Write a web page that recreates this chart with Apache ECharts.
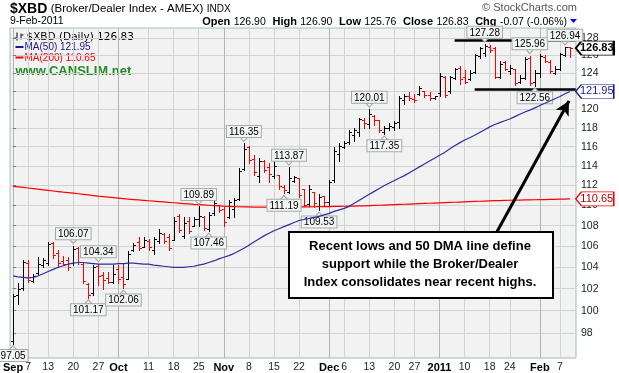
<!DOCTYPE html>
<html><head><meta charset="utf-8">
<script src="https://cdn.jsdelivr.net/npm/echarts@6/dist/echarts.min.js"></script>
<style>html,body{margin:0;padding:0;background:#fff}#c{width:619px;height:373px}</style>
</head><body><div id="c"></div>
<script>
const dates = [
'2010-09-01','2010-09-02','2010-09-03','2010-09-07','2010-09-08','2010-09-09','2010-09-10','2010-09-13','2010-09-14','2010-09-15','2010-09-16','2010-09-17','2010-09-20','2010-09-21','2010-09-22','2010-09-23','2010-09-24','2010-09-27','2010-09-28','2010-09-29','2010-09-30',
'2010-10-01','2010-10-04','2010-10-05','2010-10-06','2010-10-07','2010-10-08','2010-10-11','2010-10-12','2010-10-13','2010-10-14','2010-10-15','2010-10-18','2010-10-19','2010-10-20','2010-10-21','2010-10-22','2010-10-25','2010-10-26','2010-10-27','2010-10-28','2010-10-29',
'2010-11-01','2010-11-02','2010-11-03','2010-11-04','2010-11-05','2010-11-08','2010-11-09','2010-11-10','2010-11-11','2010-11-12','2010-11-15','2010-11-16','2010-11-17','2010-11-18','2010-11-19','2010-11-22','2010-11-23','2010-11-24','2010-11-26','2010-11-29','2010-11-30',
'2010-12-01','2010-12-02','2010-12-03','2010-12-06','2010-12-07','2010-12-08','2010-12-09','2010-12-10','2010-12-13','2010-12-14','2010-12-15','2010-12-16','2010-12-17','2010-12-20','2010-12-21','2010-12-22','2010-12-23','2010-12-27','2010-12-28','2010-12-29','2010-12-30','2010-12-31',
'2011-01-03','2011-01-04','2011-01-05','2011-01-06','2011-01-07','2011-01-10','2011-01-11','2011-01-12','2011-01-13','2011-01-14','2011-01-18','2011-01-19','2011-01-20','2011-01-21','2011-01-24','2011-01-25','2011-01-26','2011-01-27','2011-01-28','2011-01-31',
'2011-02-01','2011-02-02','2011-02-03','2011-02-04','2011-02-07','2011-02-08','2011-02-09'];

const opens = [97.3,101.4,102.1,104.4,102.7,103.5,104.2,104.4,106.3,105.4,104.6,104.7,104.4,105.8,104.3,102.4,101.6,104.1,103.3,103.0,102.6,
103.8,103.1,102.9,105.6,106.4,105.9,106.5,105.6,106.5,107.2,106.9,106.6,108.9,107.0,108.5,108.0,108.6,108.8,107.7,109.2,110.0,
109.6,108.8,109.6,110.6,113.7,116.0,114.7,113.0,114.5,113.9,113.0,113.1,111.8,111.3,112.5,112.8,111.6,110.1,111.3,109.9,110.9,
110.3,112.6,115.2,116.0,116.5,117.2,117.6,118.8,118.4,119.3,118.8,117.6,118.0,118.1,118.6,121.0,121.5,121.1,121.7,122.0,121.6,121.2,
121.8,123.6,122.0,123.4,124.6,123.6,123.3,124.1,125.9,126.3,127.0,126.8,123.6,125.3,124.2,124.4,123.0,123.4,125.7,123.0,
124.0,125.8,125.3,124.0,124.4,126.0,126.90];
const highs = [101.5,102.5,104.7,104.7,103.4,105.0,104.9,106.4,106.4,105.6,105.1,105.0,106.07,105.9,104.4,102.5,104.2,104.34,103.6,103.6,104.2,
104.2,104.4,105.5,106.3,106.9,106.9,106.7,106.9,107.7,107.3,107.2,108.8,109.1,108.8,108.8,108.8,109.89,108.9,109.3,110.5,110.0,
109.8,110.5,110.7,113.8,116.35,116.1,115.1,114.8,114.6,114.3,114.6,113.1,112.0,113.87,113.0,112.8,111.6,112.0,111.3,111.1,110.9,
112.6,116.0,116.4,116.6,117.8,118.0,119.1,119.0,120.01,119.4,118.8,118.2,118.5,118.7,121.4,121.7,121.9,121.7,122.6,122.0,121.9,121.5,
124.0,123.7,123.7,124.6,124.8,124.3,124.3,126.2,127.0,127.28,127.2,127.0,125.4,125.4,124.9,124.5,123.8,125.8,125.96,124.3,
126.1,126.0,125.5,124.8,126.3,126.94,126.90];
const lows = [97.05,100.6,101.9,102.6,102.6,103.4,104.0,104.2,104.9,104.0,104.2,103.7,104.2,104.3,102.5,101.17,101.4,102.3,102.0,102.5,102.5,
102.5,102.06,102.9,105.5,105.6,105.9,105.6,105.3,106.3,106.3,105.6,106.6,107.4,106.8,107.3,108.0,108.0,107.6,107.46,109.0,109.3,
108.0,108.7,108.8,110.5,113.6,114.3,113.1,112.3,113.4,112.4,112.8,111.6,111.19,111.2,112.3,110.8,109.9,109.9,109.8,109.53,110.0,
110.0,112.4,114.5,115.9,116.3,116.6,117.1,118.0,118.0,118.3,117.6,117.35,117.8,117.8,118.0,120.6,121.0,120.8,121.6,121.3,121.0,121.1,
121.5,121.3,121.8,123.3,122.8,122.9,123.2,124.0,125.7,125.9,126.4,123.4,123.4,124.3,123.9,122.7,122.9,123.3,122.7,122.56,
123.6,125.2,124.0,123.9,124.3,125.9,125.76];
const closes = [101.3,102.0,104.5,102.8,103.2,104.3,104.7,106.2,105.2,104.4,104.3,104.0,105.7,104.5,102.7,101.4,104.0,103.2,102.8,102.6,103.4,
102.9,102.4,105.3,106.1,105.8,106.6,105.9,106.7,107.3,106.5,105.8,108.5,107.6,108.3,107.5,108.6,108.9,107.8,109.0,110.2,109.5,
108.4,110.3,110.5,113.5,115.8,114.6,113.4,114.5,113.6,113.2,114.0,111.9,111.5,112.8,112.9,111.0,110.0,111.6,110.2,110.8,110.3,
112.4,115.6,116.1,116.4,117.5,117.8,118.9,118.5,119.5,118.8,117.8,118.0,118.2,118.5,121.2,121.4,121.2,121.0,122.3,121.6,121.2,121.4,
123.7,121.6,123.5,124.4,123.3,123.0,124.0,126.0,126.8,127.1,126.6,123.5,125.0,124.5,124.6,122.9,123.4,125.6,122.9,124.0,
125.9,125.4,124.2,124.5,126.1,126.90,126.83];

const ma50 = [103.2,103.1,103.05,103.0,103.05,103.2,103.4,103.6,103.8,104.0,
104.15,104.3,104.4,104.45,104.45,104.4,104.35,104.3,104.3,104.3,
104.3,104.35,104.35,104.4,104.4,104.35,104.3,104.3,104.2,104.15,
104.1,104.05,104.0,104.0,104.0,104.05,104.1,104.2,104.3,104.45,
104.6,104.8,104.95,105.1,105.3,105.55,105.8,106.1,106.4,106.7,
107.0,107.25,107.5,107.7,107.9,108.1,108.3,108.5,108.6,108.7,
108.8,108.9,109.05,109.2,109.4,109.55,109.7,109.9,110.2,110.5,
110.8,111.1,111.4,111.7,112.0,112.25,112.5,112.75,113.0,113.3,
113.6,113.9,114.2,114.5,114.8,115.1,115.4,115.75,116.1,116.4,
116.7,116.95,117.2,117.5,117.8,118.1,118.35,118.55,118.75,118.95,
119.2,119.45,119.7,119.9,120.15,120.4,120.65,120.9,121.15,121.4,
121.7,121.95];
const ma200 = [111.90,111.85,111.80,111.74,111.68,111.62,111.56,111.50,111.44,111.38,
111.32,111.27,111.22,111.16,111.10,111.04,110.98,110.92,110.87,110.82,
110.77,110.72,110.67,110.62,110.58,110.54,110.50,110.46,110.42,110.38,
110.34,110.30,110.26,110.22,110.18,110.14,110.10,110.07,110.04,110.01,
109.98,109.95,109.92,109.90,109.88,109.86,109.85,109.84,109.83,109.83,
109.83,109.83,109.83,109.83,109.83,109.83,109.84,109.84,109.85,109.85,
109.86,109.86,109.87,109.88,109.89,109.90,109.91,109.92,109.93,109.94,
109.95,109.97,109.99,110.01,110.03,110.05,110.07,110.09,110.11,110.13,
110.15,110.17,110.19,110.21,110.23,110.25,110.27,110.29,110.31,110.33,
110.35,110.37,110.39,110.41,110.43,110.45,110.47,110.48,110.50,110.51,
110.52,110.53,110.54,110.55,110.56,110.57,110.58,110.59,110.60,110.62,
110.63,110.65];

const tickDates = ['2010-09-01','2010-09-07','2010-09-13','2010-09-20','2010-09-27','2010-10-01','2010-10-11','2010-10-18','2010-10-25','2010-11-01','2010-11-08','2010-11-15','2010-11-22','2010-12-01','2010-12-06','2010-12-13','2010-12-20','2010-12-27','2011-01-03','2011-01-10','2011-01-18','2011-01-24','2011-02-01','2011-02-07'];
const tickLabels = ['Sep','7','13','20','27','Oct','11','18','25','Nov','8','15','22','Dec','6','13','20','27','2011','10','18','24','Feb','7'];
const monthLabels = ['Sep','Oct','Nov','Dec','2011','Feb'];
const yTicks = [98,100,102,104,106,108,110,112,114,116,118,120,122,124,126,128];

const highLabelDates = ['2010-09-20','2010-09-27','2010-10-25','2010-11-05','2010-11-18','2010-12-13','2011-01-14','2011-01-28','2011-02-08'];
const lowLabelDates = ['2010-09-01','2010-09-23','2010-10-04','2010-10-27','2010-11-17','2010-11-29','2010-12-16','2011-01-31'];

const resistance = {from: '2011-01-06', value: 127.69};
const support = {from: '2011-01-12', value: 122.22};
const arrowFrom = [96.45, 107.4], arrowTo = [110.8, 120.9];

const FONT = 'Liberation Sans, Arial, sans-serif';
const X_MIN = -0.598, X_MAX = 112.2, X_EDGE = 112.15;

const idx = d => dates.indexOf(d);
const tickIdx = tickDates.map(idx);
const labelByIdx = {};
tickIdx.forEach((v, k) => labelByIdx[v] = tickLabels[k]);
const monthIdx = tickIdx.filter((v, k) => monthLabels.includes(tickLabels[k]));

const ohlc = dates.map((d, i) => [i, opens[i], highs[i], lows[i], closes[i], (i > 0 && closes[i] < closes[i - 1]) ? 1 : 0]);
const ma50Data = ma50.map((v, i) => [i, v]);
const ma200Data = ma200.map((v, i) => [i, v]);

const boxStyle = {color: '#000', fontSize: 10, fontFamily: FONT, backgroundColor: '#f3f5f5', borderColor: '#a3abab', borderWidth: 1, padding: [1, 2, 0, 2]};
function peak(d, isHigh) {
  const i = idx(d);
  const v = isHigh ? highs[i] : lows[i];
  return {
    coord: [i, v], symbol: 'triangle', symbolSize: [7, 4],
    symbolRotate: isHigh ? 180 : 0, symbolOffset: [0, isHigh ? -4 : 4],
    itemStyle: {color: '#f3f5f5', borderColor: '#a3abab', borderWidth: 1},
    label: Object.assign({show: true, position: isHigh ? 'top' : 'bottom', distance: 0, formatter: v.toFixed(2)}, boxStyle)
  };
}
const TAG = 'path://M0,6L6,0L40,0L40,12L6,12Z';
function tag(v, border, textColor, bold) {
  return {
    coord: [X_EDGE, v], symbol: TAG, symbolSize: [38, 14], symbolKeepAspect: false, symbolOffset: [19, 0],
    itemStyle: {color: '#fff', borderColor: border, borderWidth: bold ? 1.5 : 1},
    label: {show: true, position: 'inside', offset: [2, 0], formatter: v.toFixed(2), fontSize: 11, fontFamily: FONT, color: textColor, fontWeight: bold ? 'bold' : 'normal'}
  };
}

const chart = echarts.init(document.getElementById('c'));
chart.setOption({
  animation: false,
  backgroundColor: '#fff',
  grid: {left: 10, right: 43, top: 28, bottom: 15, show: true, backgroundColor: '#f2f2f2', borderColor: '#a6bdb6', borderWidth: 1},
  xAxis: [{
    type: 'value', min: X_MIN, max: X_MAX, position: 'bottom',
    axisLine: {show: false}, axisTick: {show: false, customValues: tickIdx},
    axisLabel: {customValues: tickIdx, margin: 4, fontSize: 10.5, fontFamily: FONT, color: '#222',
      formatter: v => { const t = labelByIdx[Math.round(v)] || ''; return monthLabels.includes(t) ? '{b|' + t + '}' : t; },
      rich: {b: {fontWeight: 'bold', fontSize: 11, fontFamily: FONT, color: '#000'}}},
    splitLine: {show: true, lineStyle: {color: '#d2d2d2', width: 1}}
  }, {
    type: 'value', min: X_MIN, max: X_MAX, position: 'top',
    axisLine: {show: false}, axisTick: {show: false, customValues: monthIdx}, axisLabel: {show: false, customValues: monthIdx},
    splitLine: {show: true, lineStyle: {color: '#b4b4b4', width: 1}}
  }],
  yAxis: {
    type: 'log', logBase: 10, min: 95.8, max: 129.16, position: 'right',
    axisLine: {show: false},
    axisTick: {show: true, length: 3, customValues: yTicks, lineStyle: {color: '#777'}},
    axisLabel: {customValues: yTicks, margin: 5, fontSize: 10.5, fontFamily: FONT, color: '#222', formatter: v => String(Math.round(v))},
    splitLine: {show: true, lineStyle: {color: '#d2d2d2', width: 1}}
  },
  series: [{
    type: 'custom', name: '$XBD', data: ohlc, encode: {x: 0, y: [1, 2, 3, 4]}, z: 3,
    renderItem: function (params, api) {
      const x = api.value(0);
      const pH = api.coord([x, api.value(2)]), pL = api.coord([x, api.value(3)]);
      const pO = api.coord([x, api.value(1)]), pC = api.coord([x, api.value(4)]);
      const n = Math.round(pH[0]);
      const col = api.value(5) ? '#ff0000' : '#000000';
      const st = {stroke: col, lineWidth: 1};
      const yo = Math.round(pO[1]) + 0.5, yc = Math.round(pC[1]) + 0.5;
      return {type: 'group', children: [
        {type: 'line', shape: {x1: n + 0.5, y1: Math.round(pH[1]), x2: n + 0.5, y2: Math.round(pL[1]) + 1}, style: st},
        {type: 'line', shape: {x1: n - 2, y1: yo, x2: n, y2: yo}, style: st},
        {type: 'line', shape: {x1: n + 1, y1: yc, x2: n + 3, y2: yc}, style: st}
      ]};
    }
  }, {
    type: 'line', name: 'MA(200)', data: ma200Data, showSymbol: false, symbol: 'none', z: 4, clip: false,
    lineStyle: {color: '#ff0000', width: 1.2}
  }, {
    type: 'line', name: 'MA(50)', data: ma50Data, showSymbol: false, symbol: 'none', z: 5, clip: false,
    lineStyle: {color: '#2e2e9e', width: 1.2},
    markLine: {
      silent: true, symbol: 'none', label: {show: false},
      data: [
        [{coord: [idx(resistance.from), resistance.value], lineStyle: {color: '#000', width: 2.5, type: 'solid'}}, {coord: [X_EDGE, resistance.value]}],
        [{coord: [idx(support.from), support.value], lineStyle: {color: '#000', width: 2.5, type: 'solid'}}, {coord: [X_EDGE, support.value]}],
        [{coord: arrowFrom, symbol: 'none', lineStyle: {color: '#000', width: 3, type: 'solid'}}, {coord: arrowTo, symbol: 'arrow', symbolSize: [11, 14]}]
      ]
    },
    markPoint: {
      silent: true,
      data: highLabelDates.map(d => peak(d, true)).concat(lowLabelDates.map(d => peak(d, false))).concat([
        tag(closes[closes.length - 1], '#000', '#000', true),
        tag(ma50[ma50.length - 1], '#1a1a8c', '#1a1a8c', false),
        tag(ma200[ma200.length - 1], '#ff0000', '#b00000', false)
      ])
    }
  }],
  graphic: [
    {type: 'text', left: 10, top: 2, style: {text: '{b|$XBD} {n|(Broker/Dealer Index - AMEX)} {s|INDX}', rich: {
      b: {fontSize: 14, fontWeight: 'bold', fontFamily: FONT, fill: '#000'},
      n: {fontSize: 11.5, fontFamily: FONT, fill: '#000'},
      s: {fontSize: 10, fontFamily: FONT, fill: '#000'}}}},
    {type: 'text', left: 10, top: 16, style: {text: '9-Feb-2011', fontSize: 10.5, fontFamily: FONT, fill: '#000'}},
    {type: 'text', right: 52, top: 16, style: {text: '{b|Open} {n|126.90}  {b|High} {n|126.90}  {b|Low} {n|125.76}  {b|Close} {n|126.83}  {b|Chg} {n|-0.07 (-0.06%)}', rich: {
      b: {fontSize: 11, fontWeight: 'bold', fontFamily: FONT, fill: '#000'},
      n: {fontSize: 10.5, fontFamily: FONT, fill: '#000'}}}},
    {type: 'polygon', shape: {points: [[570, 19], [577, 19], [573.5, 23]]}, style: {fill: '#0000ff'}},
    {type: 'text', right: 42, top: 2, style: {text: '\u00A9 StockCharts.com', fontSize: 11, fontFamily: FONT, fill: '#555'}},
    {type: 'group', left: 12, top: 30, children: [
      {type: 'line', shape: {x1: 2.5, y1: 0, x2: 2.5, y2: 8}, style: {stroke: '#000', lineWidth: 1}},
      {type: 'line', shape: {x1: 0, y1: 5.5, x2: 2, y2: 5.5}, style: {stroke: '#000', lineWidth: 1}},
      {type: 'line', shape: {x1: 6.5, y1: 1, x2: 6.5, y2: 7}, style: {stroke: '#000', lineWidth: 1}},
      {type: 'line', shape: {x1: 7, y1: 2.5, x2: 9, y2: 2.5}, style: {stroke: '#000', lineWidth: 1}},
      {type: 'text', x: 12, y: -1, style: {text: '$XBD (Daily) 126.83', fontSize: 10.5, fontFamily: 'DejaVu Sans, sans-serif', fill: '#000'}},
      {type: 'line', shape: {x1: 1, y1: 14.5, x2: 9, y2: 14.5}, style: {stroke: '#1a1a8c', lineWidth: 2}},
      {type: 'text', x: 10, y: 10, style: {text: 'MA(50) 121.95', fontSize: 10, fontFamily: FONT, fill: '#1a1a8c'}},
      {type: 'line', shape: {x1: 1, y1: 25, x2: 9, y2: 25}, style: {stroke: '#ff0000', lineWidth: 2}},
      {type: 'text', x: 10, y: 20.5, style: {text: 'MA(200) 110.65', fontSize: 10, fontFamily: FONT, fill: '#ff0000'}},
      {type: 'text', x: 1, y: 32, style: {text: 'www.CANSLIM.net', fontSize: 13, fontWeight: 'bold', fontFamily: FONT, fill: '#1e8c1e'}}
    ]},
    {type: 'rect', left: 288, top: 231, z: 100, zlevel: 1, shape: {x: 0, y: 0, width: 264, height: 66}, style: {fill: '#fff', stroke: '#000', lineWidth: 2}},
    {type: 'text', x: 420, y: 264, z: 101, zlevel: 1, style: {text: 'Recent lows and 50 DMA line define\nsupport while the Broker/Dealer\nIndex consolidates near recent highs.', align: 'center', verticalAlign: 'middle', lineHeight: 18, fontSize: 13, fontWeight: 'bold', fontFamily: FONT, fill: '#000'}}
  ]
});
</script>
</body></html>
